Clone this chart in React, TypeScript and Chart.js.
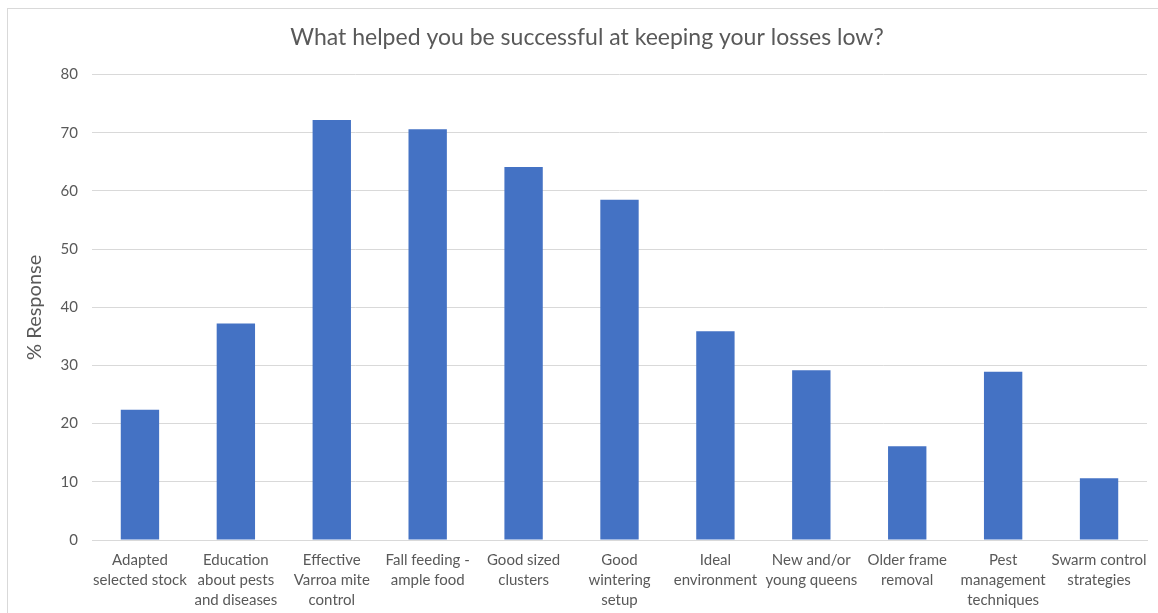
import React, { useEffect, useRef } from "react";
import { Chart, registerables } from "chart.js";

Chart.register(...registerables);

const categories: string[][] = [
  ["Adapted", "selected stock"],
  ["Education", "about pests", "and diseases"],
  ["Effective", "Varroa mite", "control"],
  ["Fall feeding -", "ample food"],
  ["Good sized", "clusters"],
  ["Good", "wintering", "setup"],
  ["Ideal", "environment"],
  ["New and/or", "young queens"],
  ["Older frame", "removal"],
  ["Pest", "management", "techniques"],
  ["Swarm control", "strategies"],
];

const responses: number[] = [22.4, 37.2, 72.2, 70.6, 64.1, 58.5, 35.9, 29.2, 16.1, 28.9, 10.6];

const yTicks = { min: 0, max: 80, step: 10 };

const TITLE = "What helped you be successful at keeping your losses low?";
const Y_TITLE = "% Response";

const FONT = "Lato, 'Open Sans', sans-serif";
const TEXT = "#595959";
const GRID = "#d9d9d9";
const BAR = "#4472C4";

export default function App() {
  const ref = useRef<HTMLCanvasElement | null>(null);

  useEffect(() => {
    if (!ref.current) return;
    const chart = new Chart(ref.current, {
      type: "bar",
      data: {
        labels: categories,
        datasets: [
          {
            data: responses,
            backgroundColor: BAR,
            borderWidth: 0,
            barPercentage: 0.4,
            categoryPercentage: 1,
          },
        ],
      },
      options: {
        responsive: false,
        animation: false,
        maintainAspectRatio: false,
        layout: { padding: { left: 19, right: 11, top: 0, bottom: 0 } },
        plugins: {
          legend: { display: false },
          tooltip: { enabled: false },
          title: {
            display: true,
            text: TITLE,
            color: TEXT,
            font: { family: FONT, size: 23, weight: "normal" },
            padding: { top: 15, bottom: 23 },
          },
        },
        scales: {
          x: {
            grid: { display: false, drawTicks: false },
            border: { display: true, color: GRID, width: 1 },
            ticks: {
              color: TEXT,
              font: { family: FONT, size: 15, lineHeight: 20 / 15 },
              padding: 10,
              maxRotation: 0,
              minRotation: 0,
              autoSkip: false,
            },
            afterFit: (scale: any) => {
              scale.height = 73;
            },
          },
          y: {
            min: yTicks.min,
            max: yTicks.max,
            grid: { color: GRID, lineWidth: 1, drawTicks: false },
            border: { display: false },
            ticks: {
              stepSize: yTicks.step,
              color: TEXT,
              font: { family: FONT, size: 15 },
              padding: 14,
            },
            title: {
              display: true,
              text: Y_TITLE,
              color: TEXT,
              font: { family: FONT, size: 20, weight: "normal" },
              padding: { top: -4, bottom: 0 },
            },
            afterFit: (scale: any) => {
              scale.width = 65;
            },
          },
        },
      },
    });
    return () => chart.destroy();
  }, []);

  return (
    <div
      style={{
        position: "absolute",
        left: 7,
        top: 8,
        width: 1151,
        height: 605,
        borderTop: "1px solid #d9d9d9",
        borderLeft: "1px solid #d9d9d9",
        boxSizing: "border-box",
        background: "#fff",
      }}
    >
      <canvas ref={ref} width={1150} height={604} style={{ display: "block" }} />
    </div>
  );
}
